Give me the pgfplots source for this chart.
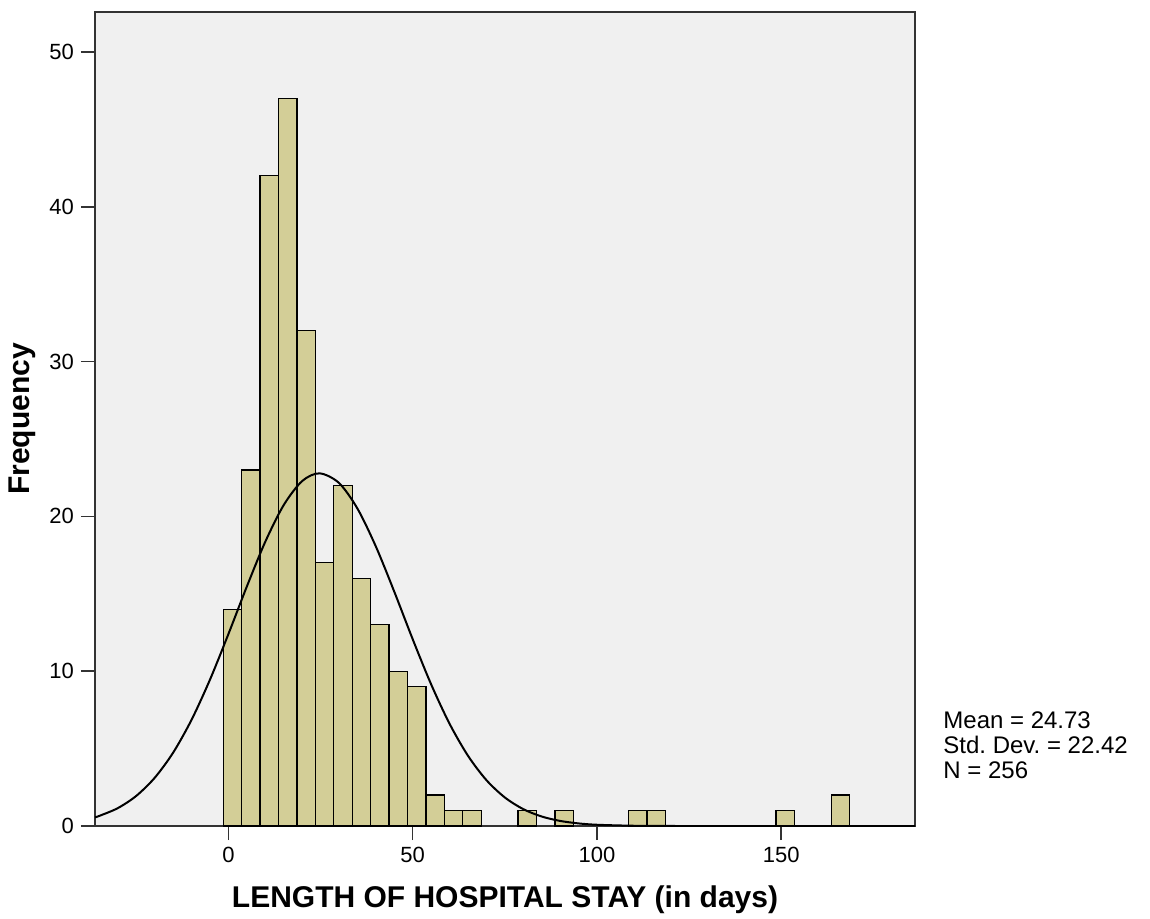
\documentclass[border=0pt]{standalone}
\usepackage{pgfplots}
\pgfplotsset{compat=1.18}
\usepackage{fontspec}
\setmainfont{Liberation Sans}
\definecolor{barfill}{RGB}{211,206,151}
\definecolor{bg}{RGB}{240,240,240}
\frenchspacing
\begin{document}
\begin{tikzpicture}
\path[use as bounding box] (-47.5pt,-46pt) rectangle (527.5pt,413pt);
\begin{axis}[
 width=410pt, height=407pt, scale only axis,
 xmin=-36.2, xmax=186.3, ymin=0, ymax=52.58,
 axis background/.style={fill=bg},
 axis line style={black!80, line width=0.8pt},
 xtick={0,50,100,150}, ytick={0,10,...,50},
 xtick pos=left, ytick pos=left, tick align=outside,
 major tick length=7pt,
 tick style={black!80, line width=0.8pt},
 ticklabel style={font=\fontsize{11}{13}\selectfont},
 /pgf/number format/assume math mode=true,
 xlabel={LENGTH OF HOSPITAL STAY (in days)},
 ylabel={Frequency},
 xlabel style={at={(axis description cs:0.5,-0.0909)}, anchor=center, font=\bfseries\fontsize{15}{17}\selectfont},
 ylabel style={at={(axis description cs:-0.089,0.5)}, anchor=center, font=\bfseries\fontsize{15}{17}\selectfont},
]
\addplot[ybar, bar width=5, bar shift=0pt, fill=barfill, draw=black, line width=0.65pt]
 coordinates {
 (1.1,14) (6.1,23) (11.1,42) (16.1,47) (21.1,32) (26.1,17) (31.1,22) (36.1,16)
 (41.1,13) (46.1,10) (51.1,9) (56.1,2) (61.1,1) (66.1,1) (81.1,1) (91.1,1)
 (111.1,1) (116.1,1) (151.1,1) (166.1,2)
 };
\addplot[black, line width=1pt, smooth, no marks] coordinates {
 (-36.2,0.56) (-35,0.656) (-30,1.157) (-25,1.946) (-20,3.114) (-15,4.738) (-10,6.861)
 (-5,9.456) (0,12.40) (5,15.47) (10,18.36) (15,20.73) (20,22.28) (24.73,22.78)
 (30,22.16) (35,20.51) (40,18.06) (45,15.14) (50,12.07) (55,9.155) (60,6.608)
 (65,4.540) (70,2.966) (75,1.845) (80,1.091) (85,0.614) (90,0.329) (95,0.168)
 (100,0.081) (110,0.0165) (120,0.002) (130,0) (186.3,0)
};
\end{axis}
\node[anchor=west, align=left, font=\fontsize{12}{12.5}\selectfont, inner sep=0pt] at (424pt,40.5pt) {Mean = 24.73\\Std. Dev. = 22.42\\N = 256};
\end{tikzpicture}
\end{document}
